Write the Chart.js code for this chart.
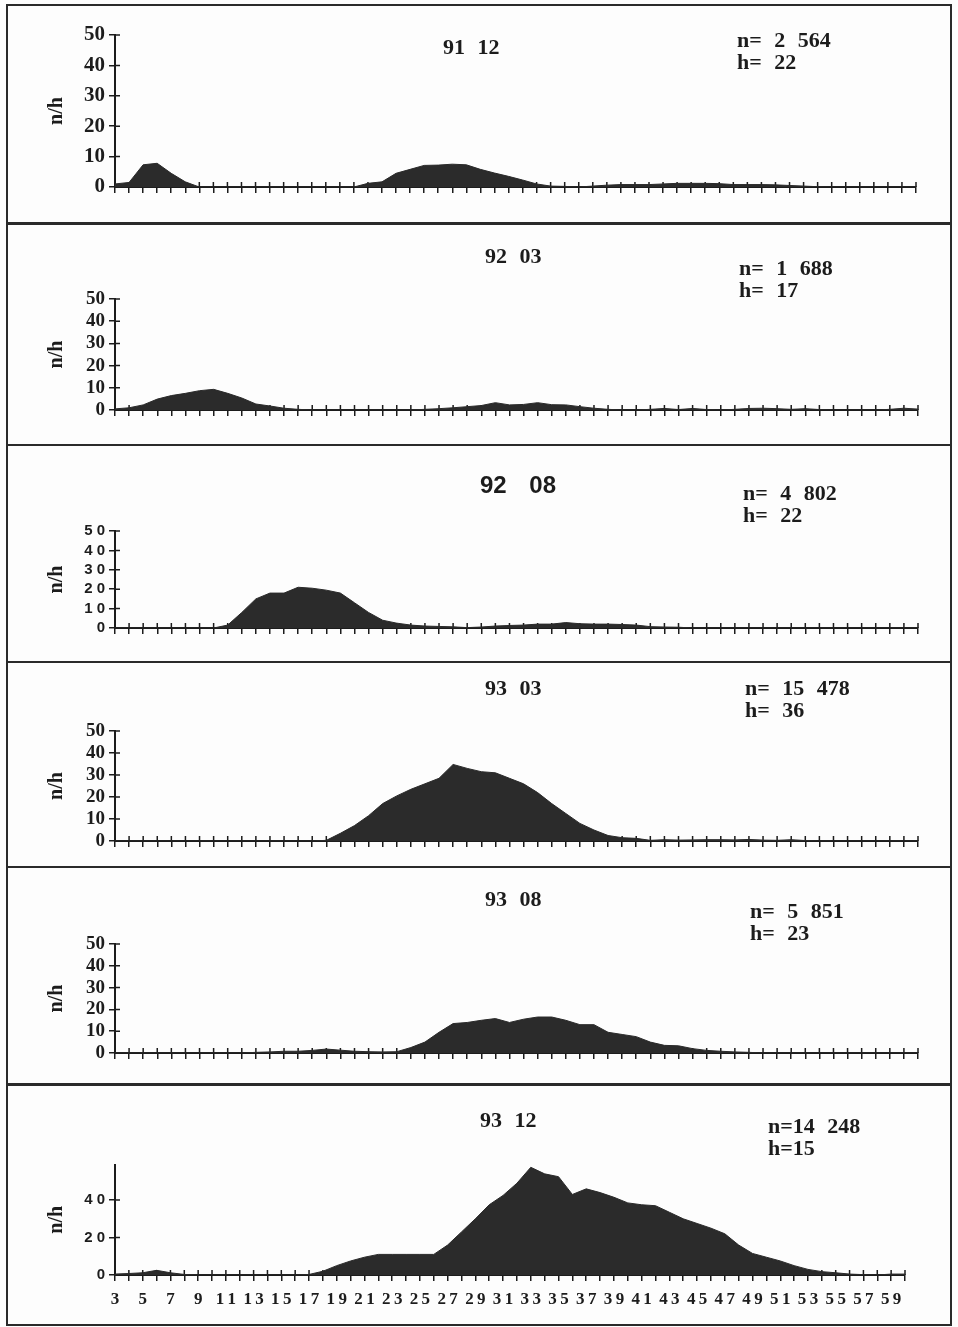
<!DOCTYPE html>
<html>
<head>
<meta charset="utf-8">
<script src="https://cdn.jsdelivr.net/npm/chart.js@4.4.1/dist/chart.umd.min.js"></script>
<style>
  body { margin: 0; background: #fdfdfd; }
  #pagina { position: relative; width: 958px; height: 1327px; overflow: hidden; color: #1c1c1c;
            font-family: "Liberation Serif", "Times New Roman", serif; }
  #pagina canvas { position: absolute; left: 0; }
  .linha { position: absolute; background: #2a2a2a; }
  .txt { position: absolute; white-space: pre; font-weight: bold; line-height: 1; word-spacing: 7px; }
</style>
</head>
<body>
<div id="pagina"></div>
<script>
// classes de tamanho no eixo x (3 a 60)
const classes = ['3','4','5','6','7','8','9','10','11','12','13','14','15','16','17','18','19','20',
  '21','22','23','24','25','26','27','28','29','30','31','32','33','34','35','36','37','38','39','40',
  '41','42','43','44','45','46','47','48','49','50','51','52','53','54','55','56','57','58','59','60'];

// n/h por classe (uma série por campanha)
const serie9112 = [1, 1.5, 7.3, 7.8, 4.5, 1.7, 0,
  0, 0, 0, 0, 0, 0, 0, 0, 0, 0,
  0, 1.2, 1.7, 4.5, 5.8, 7.1, 7.2, 7.5, 7.3, 5.8,
  4.6, 3.5, 2.3, 1, 0.3, 0.2, 0, 0.3, 0.6, 0.8,
  0.8, 0.8, 1, 1.2, 1.2, 1.2, 1.1, 0.8, 0.8, 0.8,
  0.7, 0.5, 0.3, 0.1, 0, 0, 0, 0, 0, 0, 0];
const serie9203 = [0.5, 1, 2.3, 4.9, 6.5, 7.5, 8.7, 9.3, 7.5, 5.4, 2.7, 1.8, 0.8, 0.3,
  0, 0, 0, 0, 0, 0, 0, 0,
  0.3, 0.6, 1, 1.5, 2, 3.3, 2.3, 2.5, 3.3, 2.4, 2.3, 1.5, 0.8, 0.3, 0, 0,
  0.3, 0.7, 0.2, 0.7, 0.2, 0, 0.3, 0.7, 0.8, 0.6,
  0.3, 0.6, 0.2, 0, 0, 0, 0, 0.3, 0.8, 0.4];
const serie9208 = [0, 0, 0, 0, 0, 0, 0, 0,
  1.5, 8, 15, 18, 18, 21, 20.5, 19.5, 18, 13, 8, 4, 2.5, 1.5, 1, 0.8, 0.6, 0.2, 0.5,
  1, 1.3, 1.5, 2, 2, 2.8, 2.2, 2, 2, 1.8, 1.5, 0.7, 0.5, 0.4,
  0, 0, 0, 0, 0, 0, 0, 0, 0, 0, 0, 0, 0, 0, 0, 0, 0];
const serie9303 = [0, 0, 0, 0, 0, 0, 0, 0, 0, 0, 0, 0, 0, 0, 0,
  0.3, 3.5, 7, 11.5, 17, 20.5, 23.5, 26, 28.5, 34.8, 33, 31.5, 31, 28.5, 26, 22, 17, 12.5,
  8, 5, 2.5, 1.5, 1.2, 0.3, 0.6, 0.4, 0.5, 0.6, 0.6, 0.5, 0.7, 0.4, 0.3, 0.6, 0.2,
  0, 0, 0, 0, 0, 0, 0, 0];
const serie9308 = [0, 0, 0, 0, 0, 0, 0, 0, 0, 0,
  0.3, 0.5, 0.8, 0.8, 1.2, 1.8, 1.3, 0.8, 0.6, 0.5, 0.6, 2.5, 5, 9.5, 13.5, 14, 15, 15.8,
  14, 15.5, 16.5, 16.5, 15, 13, 13, 9.5, 8.5, 7.5, 5, 3.5, 3.3, 2, 1.2, 0.8, 0.5, 0.3,
  0, 0, 0, 0, 0, 0, 0, 0, 0, 0, 0, 0];
const serie9312 = [0.5, 0.8, 1.2, 2.5, 1.2, 0.3,
  0, 0, 0, 0, 0, 0, 0, 0,
  0.3, 2, 5, 7.5, 9.5, 11, 11, 11, 11, 11,
  16, 23, 30, 37.5, 42.5, 49, 57.5, 54, 52.5, 43,
  46, 44, 41.5, 38.5, 37.5, 37, 33.5, 30, 27.5, 25,
  22, 16, 11.5, 9.5, 7.5, 5, 3, 1.8, 1.2, 0.5,
  0.2, 0, 0.5, 0.5];

const titulos = ['91 12', '92 03', '92 08', '93 03', '93 08', '93 12'];
const totaisN = ['n= 2 564', 'n= 1 688', 'n= 4 802', 'n= 15 478', 'n= 5 851', 'n=14 248'];
const valoresH = ['h= 22', 'h= 17', 'h= 22', 'h= 36', 'h= 23', 'h=15'];

const SERIF = '"Liberation Serif", "Times New Roman", serif';
const SANS = '"Liberation Sans", Arial, sans-serif';
const TINTA = '#1c1c1c';
const PRETO = '#2b2b2b';

// posição de cada painel na página
const paineis = [
  { serie: serie9112, topo: 6, base: 222, ymax: 35, y0: 187, dir: 916, max: 50, passo: 10,
    fonteY: { family: SERIF, size: 21, weight: 'bold' }, titulo: [443, 47], nh: [737, 40] },
  { serie: serie9203, topo: 225, base: 444, ymax: 299, y0: 410, dir: 918, max: 50, passo: 10,
    fonteY: { family: SERIF, size: 19, weight: 'bold' }, titulo: [485, 256], nh: [739, 268] },
  { serie: serie9208, topo: 446, base: 661, ymax: 531, y0: 628, dir: 918, max: 50, passo: 10,
    fonteY: { family: SANS, size: 15, weight: 'bold' }, espacado: true, tituloSans: true,
    titulo: [480, 485], nh: [743, 493] },
  { serie: serie9303, topo: 663, base: 866, ymax: 731, y0: 841, dir: 918, max: 50, passo: 10,
    fonteY: { family: SERIF, size: 19, weight: 'bold' }, titulo: [485, 688], nh: [745, 688] },
  { serie: serie9308, topo: 868, base: 1083, ymax: 944, y0: 1053, dir: 918, max: 50, passo: 10,
    fonteY: { family: SERIF, size: 19, weight: 'bold' }, titulo: [485, 899], nh: [750, 911] },
  { serie: serie9312, topo: 1086, base: 1324, ymax: 1164.5, y0: 1275, dir: 905, max: 59, passo: 20,
    fonteY: { family: SANS, size: 15, weight: 'bold' }, espacado: true, rotulosX: true,
    titulo: [480, 1120], nh: [768, 1126] }
];

// tracinhos para cima do eixo x e para a direita do eixo y (marcas em cruz)
const marcasCruzadas = {
  id: 'marcasCruzadas',
  beforeDatasetsDraw(chart) {
    const { ctx, scales: { x, y } } = chart;
    const base = y.getPixelForValue(0);
    ctx.save();
    ctx.strokeStyle = TINTA;
    ctx.lineWidth = 1.5;
    ctx.beginPath();
    x.ticks.forEach((t, i) => {
      const px = x.getPixelForTick(i);
      ctx.moveTo(px, base);
      ctx.lineTo(px, base - 5);
    });
    y.ticks.forEach((t, i) => {
      const py = y.getPixelForTick(i);
      ctx.moveTo(x.left, py);
      ctx.lineTo(x.left + 5, py);
    });
    ctx.stroke();
    ctx.restore();
  }
};

const pagina = document.getElementById('pagina');

function texto(conteudo, x, cy, tamanho, extra) {
  const d = document.createElement('div');
  d.className = 'txt';
  d.textContent = conteudo;
  d.style.left = x + 'px';
  d.style.top = (cy - tamanho / 2) + 'px';
  d.style.fontSize = tamanho + 'px';
  if (extra) Object.assign(d.style, extra);
  pagina.appendChild(d);
}

function linha(x, y, w, h) {
  const d = document.createElement('div');
  d.className = 'linha';
  Object.assign(d.style, { left: x + 'px', top: y + 'px', width: w + 'px', height: h + 'px' });
  pagina.appendChild(d);
}

function criarPainel(p, idx) {
  const canvas = document.createElement('canvas');
  canvas.width = 958;
  canvas.height = p.base - p.topo;
  canvas.style.top = p.topo + 'px';
  pagina.appendChild(canvas);

  const alturaX = p.rotulosX ? 34 : 8;
  const espacar = s => String(s).split('').join(p.espacado ? ' ' : '');

  new Chart(canvas, {
    type: 'line',
    data: {
      labels: classes,
      datasets: [{
        data: p.serie,
        fill: 'origin',
        backgroundColor: PRETO,
        borderColor: PRETO,
        borderWidth: 1,
        pointRadius: 0,
        tension: 0
      }]
    },
    options: {
      responsive: false,
      animation: false,
      devicePixelRatio: 1,
      layout: { padding: { left: 45, right: 958 - p.dir, top: p.ymax - p.topo, bottom: p.base - p.y0 - alturaX } },
      plugins: { legend: { display: false }, tooltip: { enabled: false } },
      scales: {
        x: {
          afterFit: s => { s.height = alturaX; },
          grid: { display: true, drawOnChartArea: false, drawTicks: true, tickLength: 6, color: TINTA, lineWidth: 1.5 },
          border: { display: true, color: TINTA, width: 2 },
          ticks: {
            display: !!p.rotulosX,
            autoSkip: false, maxRotation: 0, minRotation: 0, padding: 8,
            color: TINTA,
            font: { family: SERIF, size: 17, weight: 'bold' },
            callback: (v, i) => i % 2 === 0 ? classes[i].split('').join('\u2009') : ''
          }
        },
        y: {
          min: 0,
          max: p.max,
          afterFit: s => { s.width = 70; },
          afterBuildTicks: s => { s.ticks = s.ticks.filter(t => t.value % p.passo === 0); },
          grid: { display: true, drawOnChartArea: false, drawTicks: true, tickLength: 6, color: TINTA, lineWidth: 1.5 },
          border: { display: true, color: TINTA, width: 2 },
          ticks: { stepSize: p.passo, autoSkip: false, padding: 4, color: TINTA, font: p.fonteY,
                   callback: v => espacar(v) },
          title: { display: true, text: 'n/h', color: TINTA, padding: 0,
                   font: { family: SERIF, size: 20, weight: 'bold' } }
        }
      }
    },
    plugins: [marcasCruzadas]
  });

  if (p.tituloSans) {
    texto(titulos[idx], p.titulo[0], p.titulo[1], 24, { fontFamily: SANS, wordSpacing: '16px' });
  } else {
    texto(titulos[idx], p.titulo[0], p.titulo[1], 22);
  }
  texto(totaisN[idx], p.nh[0], p.nh[1], 22);
  texto(valoresH[idx], p.nh[0], p.nh[1] + 22, 22);
}

paineis.forEach(criarPainel);

// moldura e separações entre os painéis
linha(7, 4, 945, 1.5);
linha(7, 222, 945, 3);
linha(7, 444, 945, 2);
linha(7, 661, 945, 2);
linha(7, 866, 945, 2);
linha(7, 1083, 945, 3);
linha(7, 1324, 945, 2);
linha(6, 4, 1.5, 1322);
linha(950, 4, 1.5, 1322);
</script>
</body>
</html>
